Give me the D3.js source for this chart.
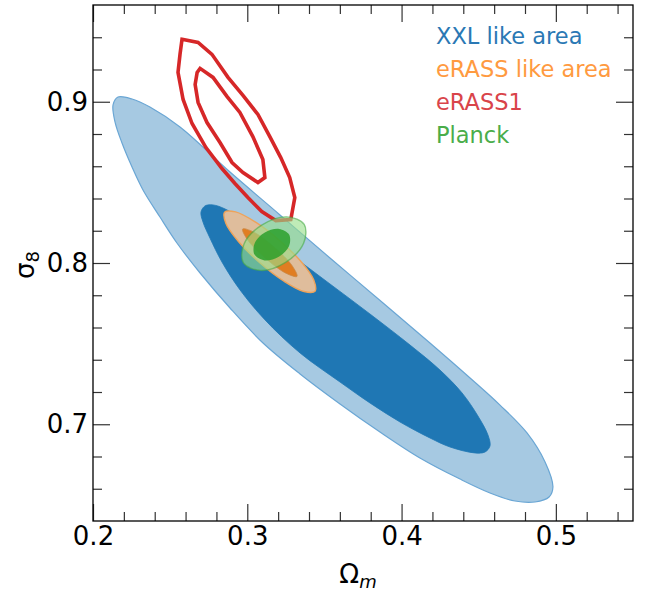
<!DOCTYPE html>
<html>
<head>
<meta charset="utf-8">
<script src="https://cdn.jsdelivr.net/npm/d3@7"></script>
<style>
  html, body { margin: 0; padding: 0; background: #fff; }
  svg { display: block; font-family: "DejaVu Sans", sans-serif; }
</style>
</head>
<body>
<svg id="chart" width="651" height="597"></svg>
<script>
// ---- Data (Ωm, σ8) ----
const xDomain = [0.2, 0.55];
const yDomain = [0.64, 0.96];
const xMajorTicks = [0.2, 0.3, 0.4, 0.5];
const yMajorTicks = [0.7, 0.8, 0.9];
const xMinorTicks = [0.22, 0.24, 0.26, 0.28, 0.32, 0.34, 0.36, 0.38, 0.42, 0.44, 0.46, 0.48, 0.52, 0.54];
const yMinorTicks = [0.66, 0.68, 0.72, 0.74, 0.76, 0.78, 0.82, 0.84, 0.86, 0.88, 0.92, 0.94];

const legendLabels = ["XXL like area", "eRASS like area", "eRASS1", "Planck"];

// XXL like area, 2σ and 1σ contours
const xxlOuter = [
  [0.2162, 0.9029], [0.2253, 0.9017], [0.2369, 0.8967], [0.2564, 0.8843],
  [0.2888, 0.8564], [0.3212, 0.8298], [0.3536, 0.8031], [0.3880, 0.7752],
  [0.4184, 0.7504], [0.4444, 0.7287], [0.4638, 0.7119], [0.4813, 0.6946],
  [0.4930, 0.6766], [0.4981, 0.6611], [0.4956, 0.6549], [0.4865, 0.6518],
  [0.4735, 0.6524], [0.4573, 0.6574], [0.4379, 0.6660], [0.4119, 0.6791],
  [0.3860, 0.6952], [0.3601, 0.7126], [0.3342, 0.7312], [0.3102, 0.7504],
  [0.2888, 0.7721], [0.2694, 0.7938], [0.2544, 0.8124], [0.2434, 0.8285],
  [0.2324, 0.8453], [0.2253, 0.8595], [0.2188, 0.8744], [0.2143, 0.8874],
  [0.2130, 0.8980]
];
const xxlInner = [
  [0.2726, 0.8354], [0.2778, 0.8360], [0.2856, 0.8335], [0.3018, 0.8242],
  [0.3277, 0.8056], [0.3536, 0.7870], [0.3795, 0.7684], [0.4055, 0.7491],
  [0.4249, 0.7336], [0.4392, 0.7194], [0.4495, 0.7051], [0.4560, 0.6933],
  [0.4573, 0.6865], [0.4541, 0.6828], [0.4476, 0.6822], [0.4314, 0.6859],
  [0.4184, 0.6915], [0.3990, 0.7014], [0.3795, 0.7132], [0.3601, 0.7262],
  [0.3342, 0.7442], [0.3115, 0.7647], [0.2953, 0.7833], [0.2836, 0.8006],
  [0.2758, 0.8155], [0.2713, 0.8254], [0.2700, 0.8316]
];
// eRASS like area
const erassOuter = [
  [0.3439, 0.7825], [0.3368, 0.7823], [0.3238, 0.7887], [0.3083, 0.8000],
  [0.2944, 0.8132], [0.2861, 0.8247], [0.2853, 0.8315], [0.2924, 0.8317],
  [0.3054, 0.8253], [0.3209, 0.8140], [0.3348, 0.8009], [0.3431, 0.7894]
];
const erassInner = [
  [0.3322, 0.7917], [0.3250, 0.7937], [0.3116, 0.8031], [0.3001, 0.8145],
  [0.2970, 0.8211], [0.3043, 0.8191], [0.3176, 0.8097], [0.3291, 0.7983]
];
// eRASS1 (line contours)
const erass1Outer = [
  [0.2577, 0.9387], [0.2681, 0.9368], [0.2771, 0.9294], [0.2875, 0.9151],
  [0.2972, 0.9039], [0.3069, 0.8921], [0.3146, 0.8784], [0.3217, 0.8654],
  [0.3275, 0.8530], [0.3308, 0.8406], [0.3282, 0.8269], [0.3185, 0.8263],
  [0.3094, 0.8319], [0.3004, 0.8406], [0.2920, 0.8493], [0.2836, 0.8586],
  [0.2732, 0.8716], [0.2642, 0.8865], [0.2584, 0.9014], [0.2551, 0.9182],
  [0.2564, 0.9294]
];
const erass1Inner = [
  [0.2694, 0.9207], [0.2778, 0.9151], [0.2868, 0.9033], [0.2952, 0.8934],
  [0.3036, 0.8784], [0.3101, 0.8642], [0.3114, 0.8530], [0.3069, 0.8499],
  [0.2972, 0.8561], [0.2901, 0.8623], [0.2823, 0.8747], [0.2739, 0.8871],
  [0.2681, 0.8996], [0.2662, 0.9107], [0.2675, 0.9182]
];
// Planck
const planckOuter = [
  [0.3369, 0.8239], [0.3365, 0.8122], [0.3248, 0.8004], [0.3086, 0.7954],
  [0.2975, 0.8001], [0.2979, 0.8118], [0.3096, 0.8236], [0.3258, 0.8286]
];
const planckInner = [
  [0.3271, 0.8176], [0.3270, 0.8104], [0.3204, 0.8039], [0.3112, 0.8016],
  [0.3047, 0.8052], [0.3048, 0.8123], [0.3114, 0.8189], [0.3206, 0.8211]
];

// ---- Layout ----
const svg = d3.select("#chart");
const L = 93, R = 633, T = 5, B = 521;
const x = d3.scaleLinear().domain(xDomain).range([L, R]);
const y = d3.scaleLinear().domain(yDomain).range([B, T]);

svg.append("defs").append("clipPath").attr("id", "plotclip")
  .append("rect").attr("x", L).attr("y", T).attr("width", R - L).attr("height", B - T);

const g = svg.append("g").attr("clip-path", "url(#plotclip)");

const smooth = d3.line().x(d => x(d[0])).y(d => y(d[1])).curve(d3.curveCatmullRomClosed.alpha(0.5));
const poly = d3.line().x(d => x(d[0])).y(d => y(d[1])).curve(d3.curveLinearClosed);

// XXL
g.append("path").attr("d", smooth(xxlOuter))
  .attr("fill", "#a6c9e2").attr("stroke", "#6aa6d4").attr("stroke-width", 1.2);
g.append("path").attr("d", smooth(xxlInner))
  .attr("fill", "#1f77b4").attr("stroke", "#1f77b4").attr("stroke-width", 0.8);

// eRASS1 lines
g.append("path").attr("d", poly(erass1Outer))
  .attr("fill", "none").attr("stroke", "#d62728").attr("stroke-width", 3.6)
  .attr("stroke-linejoin", "miter");
g.append("path").attr("d", poly(erass1Inner))
  .attr("fill", "none").attr("stroke", "#d62728").attr("stroke-width", 3.6)
  .attr("stroke-linejoin", "miter");

// eRASS like area
g.append("path").attr("d", smooth(erassOuter))
  .attr("fill", "#dfbd9c").attr("stroke", "#eea35a").attr("stroke-width", 1.4);
g.append("path").attr("d", smooth(erassInner))
  .attr("fill", "#e07d22").attr("stroke", "#c98a4a").attr("stroke-width", 0.8);

// Planck
g.append("path").attr("d", smooth(planckOuter))
  .attr("fill", "rgba(152,223,138,0.62)").attr("stroke", "rgba(70,170,70,0.6)").attr("stroke-width", 1.4);
g.append("path").attr("d", smooth(planckInner))
  .attr("fill", "rgba(44,160,44,0.85)").attr("stroke", "none");

// ---- Axes ----
const fmt = d3.format(".1f");
const majLen = 17, minLen = 9;
function styleAxis(sel) {
  sel.select(".domain").remove();
  sel.selectAll(".tick line").attr("stroke", "#333").attr("stroke-width", 1.2);
  sel.selectAll("text").attr("fill", "#000").style("font-size", "26px")
    .style("font-family", "'DejaVu Sans', sans-serif");
}
// bottom
svg.append("g").attr("transform", `translate(0,${B})`)
  .call(d3.axisBottom(x).tickValues(xMajorTicks).tickSize(-majLen).tickPadding(6).tickFormat(fmt))
  .call(styleAxis);
svg.append("g").attr("transform", `translate(0,${B})`)
  .call(d3.axisBottom(x).tickValues(xMinorTicks).tickSize(-minLen).tickFormat(""))
  .call(styleAxis);
// top
svg.append("g").attr("transform", `translate(0,${T})`)
  .call(d3.axisTop(x).tickValues(xMajorTicks).tickSize(-majLen).tickFormat(""))
  .call(styleAxis);
svg.append("g").attr("transform", `translate(0,${T})`)
  .call(d3.axisTop(x).tickValues(xMinorTicks).tickSize(-minLen).tickFormat(""))
  .call(styleAxis);
// left
svg.append("g").attr("transform", `translate(${L},0)`)
  .call(d3.axisLeft(y).tickValues(yMajorTicks).tickSize(-majLen).tickPadding(5).tickFormat(fmt))
  .call(styleAxis);
svg.append("g").attr("transform", `translate(${L},0)`)
  .call(d3.axisLeft(y).tickValues(yMinorTicks).tickSize(-minLen).tickFormat(""))
  .call(styleAxis);
// right
svg.append("g").attr("transform", `translate(${R},0)`)
  .call(d3.axisRight(y).tickValues(yMajorTicks).tickSize(-majLen).tickFormat(""))
  .call(styleAxis);
svg.append("g").attr("transform", `translate(${R},0)`)
  .call(d3.axisRight(y).tickValues(yMinorTicks).tickSize(-minLen).tickFormat(""))
  .call(styleAxis);

// frame
svg.append("rect").attr("x", L).attr("y", T).attr("width", R - L).attr("height", B - T)
  .attr("fill", "none").attr("stroke", "#000").attr("stroke-width", 1.3);

// axis labels
const xl = svg.append("text").attr("x", 358).attr("y", 583).attr("text-anchor", "middle")
  .style("font-size", "26px");
xl.append("tspan").text("Ω");
xl.append("tspan").attr("dy", 5).style("font-size", "18px").style("font-style", "italic").text("m");

const yl = svg.append("text").attr("transform", "translate(34,265) rotate(-90)")
  .attr("text-anchor", "middle").style("font-size", "26px");
yl.append("tspan").text("σ");
yl.append("tspan").attr("dy", 5).style("font-size", "18px").text("8");

// legend
const legendColors = ["#2a78b4", "#ff9a40", "#d9444a", "#4aad4a"];
svg.append("g").selectAll("text").data(legendLabels).join("text")
  .attr("x", 436).attr("y", (d, i) => 44 + i * 33)
  .attr("fill", (d, i) => legendColors[i])
  .style("font-size", "22.5px")
  .text(d => d);
</script>
</body>
</html>
